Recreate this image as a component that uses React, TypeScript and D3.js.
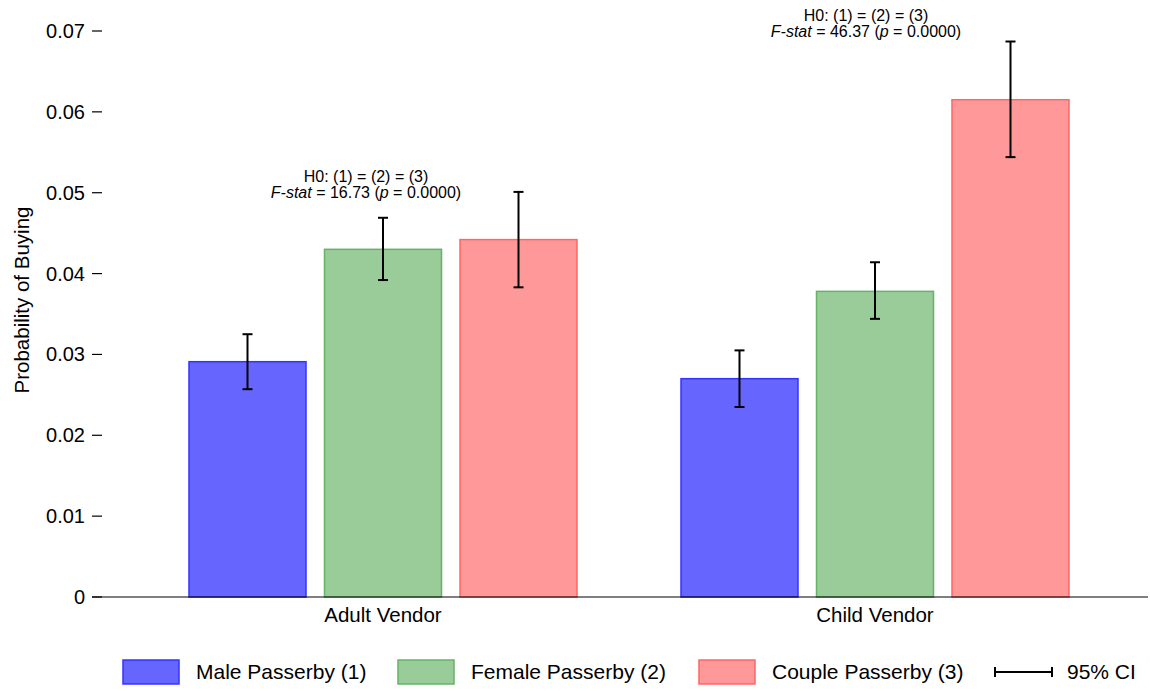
import React from "react";
import * as d3 from "d3";

const groups = ["Adult Vendor", "Child Vendor"];
const series = ["Male Passerby (1)", "Female Passerby (2)", "Couple Passerby (3)"];
const means = [
  [0.0291, 0.0430, 0.0442],
  [0.0270, 0.0378, 0.0615],
];
const ciLow = [
  [0.0257, 0.0392, 0.0383],
  [0.0235, 0.0344, 0.0544],
];
const ciHigh = [
  [0.0325, 0.0469, 0.0501],
  [0.0305, 0.0414, 0.0687],
];
const fstats = ["16.73", "46.37"];
const annY = [0.0494, 0.0693];
const yTicks = [0, 0.01, 0.02, 0.03, 0.04, 0.05, 0.06, 0.07];
const fills = ["#6666ff", "#99cc99", "#ff9999"];
const strokes = ["#3333ff", "#66b366", "#ff6666"];

export default function App() {
  const W = 1150, H = 691;
  const y = d3.scaleLinear().domain([0, 0.07]).range([597, 31]);
  const groupCenters = [383, 875];
  const xg = d3.scalePoint().domain(groups).range([groupCenters[0], groupCenters[1]]);
  const barW = 117;
  const step = 135.5;
  const font = "'Liberation Sans', Arial, sans-serif";
  const annOffsets = [-17, -9];
  const legX = [123, 398, 699];
  return (
    <svg width={W} height={H} style={{ position: "absolute", left: 0, top: 0, fontFamily: font }}>
      <rect width={W} height={H} fill="#fff" />
      {yTicks.map((t) => (
        <g key={t}>
          <line x1={92} x2={102} y1={y(t)} y2={y(t)} stroke="#000" strokeWidth={1.2} />
          <text x={85} y={y(t)} dy="0.35em" textAnchor="end" fontSize={20}>
            {t === 0 ? "0" : d3.format(".2f")(t)}
          </text>
        </g>
      ))}
      <text transform={`translate(29,300) rotate(-90)`} textAnchor="middle" fontSize={20.5}>
        Probability of Buying
      </text>
      {groups.map((g, gi) => {
        const cx = xg(g) as number;
        return (
          <g key={g}>
            {series.map((s, si) => {
              const bx = cx + (si - 1) * step;
              return (
                <rect
                  key={s}
                  x={bx - barW / 2}
                  y={y(means[gi][si])}
                  width={barW}
                  height={y(0) - y(means[gi][si])}
                  fill={fills[si]}
                  stroke={strokes[si]}
                  strokeWidth={1.5}
                />
              );
            })}
            {series.map((s, si) => {
              const bx = cx + (si - 1) * step;
              return (
                <g key={s + "ci"} stroke="#000" strokeWidth={2}>
                  <line x1={bx} x2={bx} y1={y(ciLow[gi][si])} y2={y(ciHigh[gi][si])} />
                  <line x1={bx - 5} x2={bx + 5} y1={y(ciLow[gi][si])} y2={y(ciLow[gi][si])} />
                  <line x1={bx - 5} x2={bx + 5} y1={y(ciHigh[gi][si])} y2={y(ciHigh[gi][si])} />
                </g>
              );
            })}
            <text x={cx} y={622} textAnchor="middle" fontSize={20.5}>{g}</text>
            {(() => {
              const base = y(annY[gi]);
              const ax = cx + annOffsets[gi];
              return (
                <g fontSize={16} textAnchor="middle">
                  <text x={ax} y={base - 15.5}>H0: (1) = (2) = (3)</text>
                  <text x={ax} y={base}>
                    <tspan fontStyle="italic">F-stat</tspan> = {fstats[gi]} (<tspan fontStyle="italic">p</tspan> = 0.0000)
                  </text>
                </g>
              );
            })()}
          </g>
        );
      })}
      <line x1={92} x2={1148} y1={y(0)} y2={y(0)} stroke="#000" strokeWidth={1.2} />
      {series.map((s, si) => {
        const lx = legX[si];
        return (
          <g key={s + "leg"}>
            <rect x={lx} y={660} width={56} height={24} fill={fills[si]} stroke={strokes[si]} strokeWidth={1.5} />
            <text x={lx + 73} y={672} dy="0.35em" fontSize={21}>{s}</text>
          </g>
        );
      })}
      <g stroke="#000" strokeWidth={2}>
        <line x1={995} x2={1052} y1={672} y2={672} />
        <line x1={995} x2={995} y1={667} y2={677} />
        <line x1={1052} x2={1052} y1={667} y2={677} />
      </g>
      <text x={1067} y={672} dy="0.35em" fontSize={21}>95% CI</text>
    </svg>
  );
}
